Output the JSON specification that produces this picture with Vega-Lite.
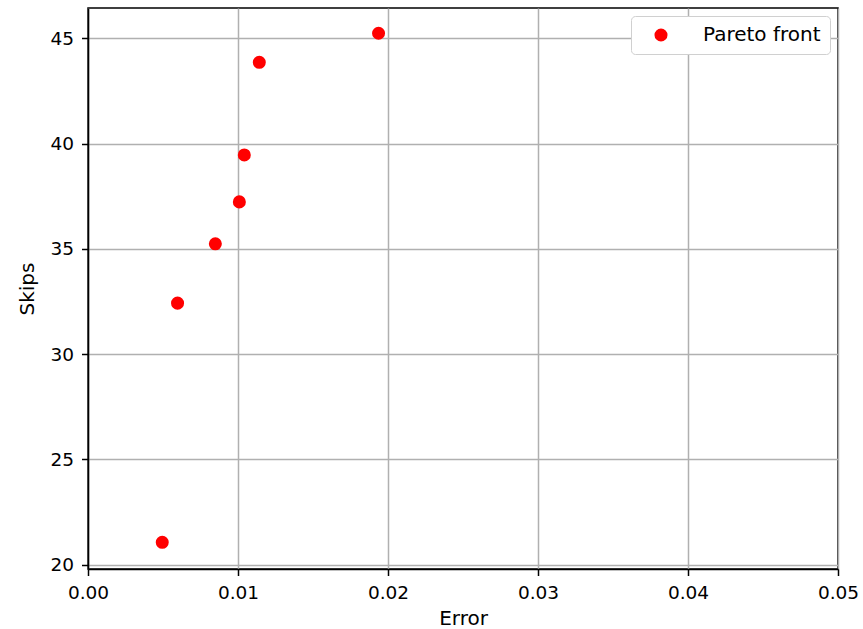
{
  "$schema": "https://vega.github.io/schema/vega-lite/v6.json",
  "width": 750,
  "height": 561,
  "autosize": {"type": "none"},
  "padding": {"left": 88, "top": 8, "right": 25, "bottom": 60},
  "background": "white",
  "config": {
    "view": {"stroke": "black", "strokeWidth": 1.5},
    "font": "DejaVu Sans"
  },
  "data": {
    "values": [
      {"error": 0.00495, "skips": 21.06, "series": "Pareto front"},
      {"error": 0.00597, "skips": 32.42, "series": "Pareto front"},
      {"error": 0.00849, "skips": 35.24, "series": "Pareto front"},
      {"error": 0.01009, "skips": 37.23, "series": "Pareto front"},
      {"error": 0.01042, "skips": 39.46, "series": "Pareto front"},
      {"error": 0.01142, "skips": 43.86, "series": "Pareto front"},
      {"error": 0.01937, "skips": 45.24, "series": "Pareto front"}
    ]
  },
  "mark": {"type": "point", "filled": true, "opacity": 1, "size": 170, "shape": "circle"},
  "encoding": {
    "x": {
      "field": "error",
      "type": "quantitative",
      "title": "Error",
      "scale": {"domain": [0, 0.05], "nice": false, "zero": false},
      "axis": {
        "values": [0, 0.01, 0.02, 0.03, 0.04, 0.05],
        "format": ".2f",
        "labelFlush": false,
        "labelOverlap": false,
        "labelFontSize": 18.5,
        "labelColor": "black",
        "labelPadding": 8,
        "titleFontSize": 20,
        "titleFontWeight": "normal",
        "titleColor": "black",
        "titlePadding": 6,
        "domainColor": "black",
        "domainWidth": 1.5,
        "tickColor": "black",
        "tickWidth": 1.5,
        "tickSize": 6.5,
        "gridColor": "#b0b0b0",
        "gridWidth": 1.5,
        "gridOpacity": 1
      }
    },
    "y": {
      "field": "skips",
      "type": "quantitative",
      "title": "Skips",
      "scale": {"domain": [19.79, 46.44], "nice": false, "zero": false},
      "axis": {
        "values": [20, 25, 30, 35, 40, 45],
        "labelFlush": false,
        "labelOverlap": false,
        "labelFontSize": 18.5,
        "labelColor": "black",
        "labelPadding": 8,
        "titleFontSize": 20,
        "titleFontWeight": "normal",
        "titleColor": "black",
        "titlePadding": 12,
        "domainColor": "black",
        "domainWidth": 1.5,
        "tickColor": "black",
        "tickWidth": 1.5,
        "tickSize": 6.5,
        "gridColor": "#b0b0b0",
        "gridWidth": 1.5,
        "gridOpacity": 1
      }
    },
    "color": {
      "field": "series",
      "type": "nominal",
      "scale": {"range": ["#ff0000"]},
      "legend": {
        "title": null,
        "orient": "top-right",
        "offset": 8,
        "strokeColor": "#d0d0d0",
        "fillColor": "white",
        "cornerRadius": 4,
        "padding": 9,
        "symbolType": "circle",
        "symbolSize": 170,
        "symbolOffset": 11,
        "symbolStrokeWidth": 0,
        "labelFontSize": 20,
        "labelColor": "black",
        "labelOffset": 32
      }
    }
  }
}
